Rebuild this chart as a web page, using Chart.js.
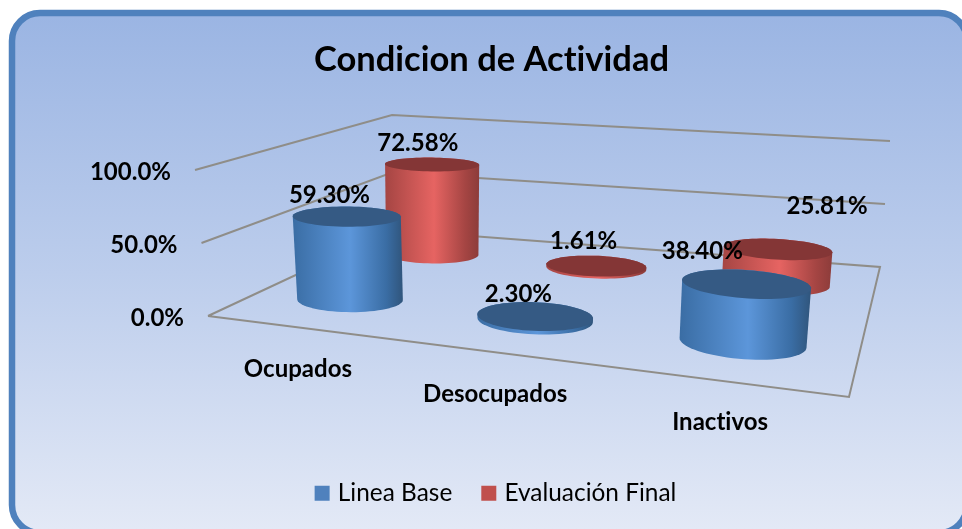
<!DOCTYPE html>
<html><head><meta charset="utf-8">
<style>html,body{margin:0;padding:0;background:#fff}canvas{display:block}</style>
<script src="https://cdn.jsdelivr.net/npm/chart.js@4"></script>
</head><body><canvas id="c" width="962" height="529"></canvas>
<script>
const categories = ['Ocupados', 'Desocupados', 'Inactivos'];
const lineaBase = [59.30, 2.30, 38.40];
const evaluacionFinal = [72.58, 1.61, 25.81];
const yTicks = [0, 50, 100];
const titleText = 'Condicion de Actividad';

const FONT = 'Lato, sans-serif';
// projected box corners: FL, FR, BR, BL
const floorQ = [[208,316],[849,397],[880,267],[392,230]];
const topQ   = [[195,170],[865,227],[890,141],[392,115]];
function homog(q){
  const [[x0,y0],[x1,y1],[x2,y2],[x3,y3]] = q;
  const dx1=x1-x2,dx2=x3-x2,sx=x0-x1+x2-x3,dy1=y1-y2,dy2=y3-y2,sy=y0-y1+y2-y3;
  const den=dx1*dy2-dx2*dy1, g=(sx*dy2-dx2*sy)/den, h=(dx1*sy-sx*dy1)/den;
  const a=x1-x0+g*x1,b=x3-x0+h*x3,d=y1-y0+g*y1,e=y3-y0+h*y3;
  return (u,v)=>{const w=g*u+h*v+1;return [(a*u+b*v+x0)/w,(d*u+e*v+y0)/w];};
}
const H0=homog(floorQ), H1=homog(topQ);
function P(u,v,t){const a=H0(u,v),b=H1(u,v);return [a[0]+(b[0]-a[0])*t,a[1]+(b[1]-a[1])*t];}

const rowDepth=[0.25,0.75];
const uNudge=[0.011,0.018,0.007];
const radiusU=[0.097,0.094,0.0895];
const radiusV=0.11;
const looks=[
 {edgeL:'#3a6da4',mid:'#5c96da',edgeR:'#30557c',top:'#355a84'},
 {edgeL:'#a54543',mid:'#e66462',edgeR:'#8c3c3a',top:'#843636'}
];
const labelShift=[[[-17,-21],[-16,-22],[-43,-32]],[[-14,-21],[-12,-24],[50,-43]]];

function hull(pts){
  const s=pts.slice().sort((a,b)=>a[0]-b[0]||a[1]-b[1]);
  const cr=(o,a,b)=>(a[0]-o[0])*(b[1]-o[1])-(a[1]-o[1])*(b[0]-o[0]);
  const lo=[],up=[];
  for(const p of s){while(lo.length>1&&cr(lo[lo.length-2],lo[lo.length-1],p)<=0)lo.pop();lo.push(p);}
  for(const p of s.slice().reverse()){while(up.length>1&&cr(up[up.length-2],up[up.length-1],p)<=0)up.pop();up.push(p);}
  return lo.slice(0,-1).concat(up.slice(0,-1));
}
function poly(ctx,pts){ctx.beginPath();pts.forEach((p,i)=>i?ctx.lineTo(p[0],p[1]):ctx.moveTo(p[0],p[1]));ctx.closePath();}
function ring(u,v,t,ru,rv){const r=[];for(let k=0;k<72;k++){const a=k/72*2*Math.PI;r.push(P(u+ru*Math.cos(a),v+rv*Math.sin(a),t));}return r;}

function cylinder(ctx,u,v,t,row,i){
  const ru=radiusU[i],rv=radiusV,L=looks[row];
  const bot=ring(u,v,0,ru,rv),top=ring(u,v,t,ru,rv);
  const h=hull(bot.concat(top));
  const xs=h.map(p=>p[0]),x0=Math.min(...xs),x1=Math.max(...xs);
  const g=ctx.createLinearGradient(x0,0,x1,0);
  g.addColorStop(0,L.edgeL);g.addColorStop(0.52,L.mid);g.addColorStop(0.85,L.edgeL);g.addColorStop(1,L.edgeR);
  poly(ctx,h);ctx.fillStyle=g;ctx.fill();
  poly(ctx,top);ctx.fillStyle=L.top;ctx.fill();
}
function norm(chart,i,value){
  const xs=chart.scales.x,ys=chart.scales.y;
  const u=(xs.getPixelForValue(i)-xs.left)/(xs.right-xs.left)+uNudge[i];
  const t=(ys.bottom-ys.getPixelForValue(value))/(ys.bottom-ys.top);
  return [u,t];
}
const threeD={
  id:'threeD',
  beforeLayout(chart){chart.ctx.letterSpacing='0.01px';},
  afterLayout(chart){
    const lg=chart.legend;
    lg.left+=6;lg.right+=6;
    const h=lg.bottom-lg.top,top=492-lg.options.labels.padding-11;
    lg.top=top;lg.bottom=top+h;
  },
  beforeDraw(chart){
    const c=chart.ctx;c.letterSpacing='0.01px';c.save();
    const g=c.createLinearGradient(0,17,0,529);
    g.addColorStop(0,'#9bb5e3');g.addColorStop(0.5,'#bccdec');g.addColorStop(1,'#e3e9f6');
    c.beginPath();c.roundRect(12,13,955,520,28);c.fillStyle=g;c.fill();
    c.lineWidth=6.5;c.strokeStyle='#4f81bd';c.stroke();c.restore();
  },
  beforeDatasetsDraw(chart){
    const c=chart.ctx,ys=chart.scales.y;c.save();
    c.strokeStyle='#8f8d88';c.lineWidth=2;c.lineJoin='miter';
    for(const tick of yTicks){
      const t=(ys.bottom-ys.getPixelForValue(tick))/(ys.bottom-ys.top);
      c.beginPath();
      const a=P(0,0,t),b=P(0,1,t),d=P(1,1,t);
      c.moveTo(a[0],a[1]);c.lineTo(b[0],b[1]);c.lineTo(d[0],d[1]);
      if(tick===0){const e=P(1,0,0);c.lineTo(e[0],e[1]);c.lineTo(a[0],a[1]);}
      c.stroke();
      c.fillStyle='#000';c.font='bold 24px '+FONT;c.textAlign='right';c.textBaseline='middle';
      c.fillText(tick.toFixed(1)+'%',a[0]-24,a[1]+2);
    }
    // back row first
    [1,0].forEach(row=>{
      chart.data.datasets[row].data.forEach((val,i)=>{
        const [u,t]=norm(chart,i,val);
        cylinder(c,u,rowDepth[row],t,row,i);
      });
    });
    c.restore();
  },
  beforeDatasetDraw(){return false;},
  afterDatasetsDraw(chart){
    const c=chart.ctx;c.save();
    c.fillStyle='#000';c.font='bold 24px '+FONT;c.textAlign='center';c.textBaseline='middle';
    [0,1].forEach(row=>chart.data.datasets[row].data.forEach((val,i)=>{
      const [u,t]=norm(chart,i,val),p=P(u,rowDepth[row],t),s=labelShift[row][i];
      c.fillText(val.toFixed(2)+'%',p[0]+s[0],p[1]+s[1]);
    }));
    categories.forEach((name,i)=>{
      const [u]=norm(chart,i,0),p=P(u,0,0);
      c.fillText(name,p[0],p[1]+41.5);
    });
    c.restore();
  }
};
new Chart(document.getElementById('c'),{
  type:'bar',
  data:{labels:categories,datasets:[
    {label:'Linea Base',data:lineaBase,backgroundColor:'#4f81bd',borderColor:'#4f81bd',borderWidth:8},
    {label:'Evaluación Final',data:evaluacionFinal,backgroundColor:'#c0504d',borderColor:'#c0504d',borderWidth:8}
  ]},
  options:{
    responsive:false,animation:false,
    layout:{padding:{left:21,top:39,bottom:14}},
    scales:{x:{display:false},y:{display:false,min:0,max:100}},
    plugins:{
      tooltip:{enabled:false},
      title:{display:true,text:titleText,color:'#000',font:{family:FONT,size:34.5,weight:'bold'},padding:{top:0,bottom:10}},
      legend:{position:'bottom',labels:{color:'#000',boxWidth:7,boxHeight:7,padding:33,font:{family:FONT,size:24.4}}}
    }
  },
  plugins:[threeD]
});
</script></body></html>
